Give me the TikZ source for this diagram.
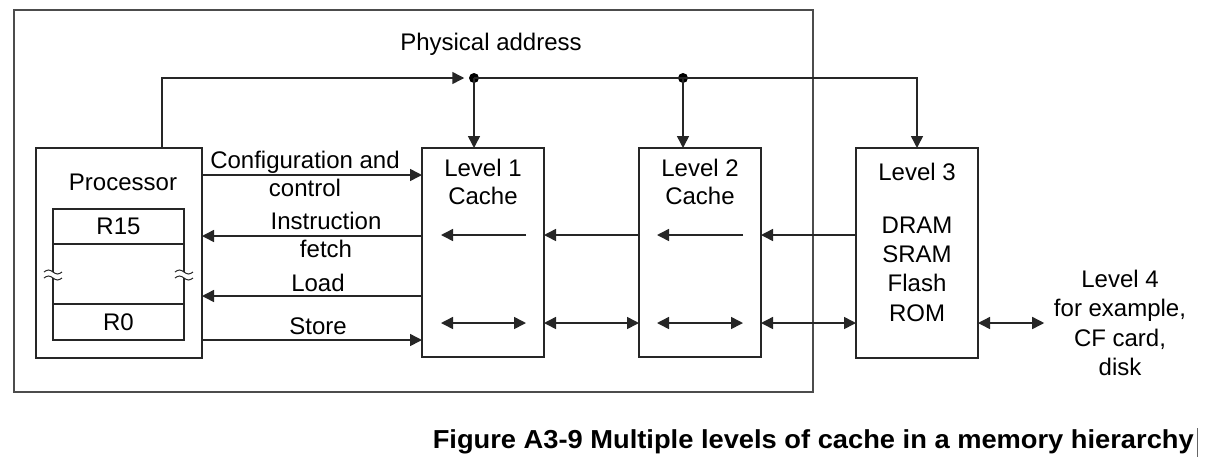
\documentclass[tikz,border=0pt]{standalone}
\usepackage{fontspec}
\setmainfont{Liberation Sans}
\usetikzlibrary{arrows.meta,calc}
\begin{document}
\begin{tikzpicture}[x=1pt,y=-1pt, line width=1.5pt, draw=black!85,
  box/.style={draw, line width=1.5pt, inner sep=0, outer sep=0, minimum width=122pt, minimum height=209pt},
  reg/.style={draw, line width=1.5pt, inner sep=0, outer sep=0, minimum width=131pt},
  lbl/.style={font=\fontsize{24}{28}\selectfont, align=center, inner sep=0, text=black},
  lbltall/.style={font=\fontsize{24}{29.3}\selectfont, align=center, inner sep=0, text=black},
  tip/.style={-{Triangle[length=12pt,width=12pt]}},
  dtip/.style={{Triangle[length=12pt,width=12pt]}-{Triangle[length=12pt,width=12pt]}},
  dot/.style={circle, fill=black, draw=none, inner sep=0, minimum size=10pt},
  wave/.style={line width=1pt}]
\useasboundingbox (0,0) rectangle (1209,467);
\fill[white] (0,0) rectangle (1209,467);

% outer frame
\node[draw=black!70, line width=1.3pt, minimum width=799pt, minimum height=382pt, inner sep=0] (frame) at (413.5,201) {};

% processor
\node[box, minimum width=166pt, minimum height=210pt] (proc) at (119,253) {};
\node[lbl] (proct) at (123,182) {Processor};
\node[reg, lbl, minimum height=35pt] (r15) at (118.5,226.5) {R15};
\node[reg, lbl, minimum height=36pt] (r0) at (118.5,322) {R0};
\draw (r15.south west) -- ++(0,27.5);
\draw (r0.north west) -- ++(0,-26);
\draw (r15.south east) -- ++(0,27.5);
\draw (r0.north east) -- ++(0,-26);
\foreach \xx in {53,184}{
  \draw[wave] (\xx-9,272) sin (\xx-4.5,270) cos (\xx,272) sin (\xx+4.5,274) cos (\xx+9,272);
  \draw[wave] (\xx-9,278) sin (\xx-4.5,276) cos (\xx,278) sin (\xx+4.5,280) cos (\xx+9,278);
}

% caches
\node[box] (l1) at (483,252.5) {};
\node[lbl] (l1t) at (483,182) {Level 1\\Cache};
\node[box] (l2) at (700,252.5) {};
\node[lbl] (l2t) at (700,182) {Level 2\\Cache};
\node[box, minimum height=210pt] (l3) at (917,253) {};
\node[lbl] (l3t) at (917,172) {Level 3};
\node[lbltall] (l3m) at (917,269) {DRAM\\SRAM\\Flash\\ROM};
\node[lbltall] (l4) at (1120,323) {Level 4\\for example,\\CF card,\\disk};

% physical address bus
\node[lbl] (pa) at (491,44) {Physical address};
\node[dot] (d1) at (474,78) {};
\node[dot] (d2) at (683,78) {};
\path (proc.north west) ++(126,0) coordinate (pu);
\draw[tip, shorten >=4pt] (pu) |- (d1.west);
\draw (d1.center) -- (d2.center);
\draw[tip] (d2.center) -| (l3.north);
\draw[tip] (d1.center) -- (d1 |- l1.north);
\draw[tip] (d2.center) -- (d2 |- l2.north);

% processor <-> L1
\coordinate (rc) at (0,175);
\coordinate (rf) at (0,236);
\coordinate (rl) at (0,296);
\coordinate (rs) at (0,340);
\draw[tip] (proc.east |- rc) -- (l1.west |- rc);
\draw[tip] (l1.west |- rf) -- (proc.east |- rf);
\draw[tip] (l1.west |- rl) -- (proc.east |- rl);
\draw[tip] (proc.east |- rs) -- (l1.west |- rs);
\node[lbl] (cfg) at (305,174) {Configuration and\\control};
\node[lbl] (ifl) at (326,234.5) {Instruction\\fetch};
\node[lbl] (ld) at (318,283) {Load};
\node[lbl] (st) at (318,326) {Store};

% cache rows
\coordinate (ra) at (0,235);
\coordinate (rb) at (0,323);
\draw[tip] ($(l1.east|-ra)+(-18,0)$) -- ($(l1.west|-ra)+(19,0)$);
\draw[dtip] ($(l1.west|-rb)+(19,0)$) -- ($(l1.east|-rb)+(-18,0)$);
\draw[tip] (l2.west|-ra) -- (l1.east|-ra);
\draw[dtip] (l1.east|-rb) -- (l2.west|-rb);
\draw[tip] ($(l2.east|-ra)+(-18,0)$) -- ($(l2.west|-ra)+(18,0)$);
\draw[dtip] ($(l2.west|-rb)+(18,0)$) -- ($(l2.east|-rb)+(-18,0)$);
\draw[tip] (l3.west|-ra) -- (l2.east|-ra);
\draw[dtip] (l2.east|-rb) -- (l3.west|-rb);
\draw[dtip, shorten >=9pt] (l3.east|-rb) -- (l4.west|-rb);

% caption
\node[inner sep=0, anchor=west, text=black] (cap) at (432,442) {\resizebox{761pt}{\height}{\fontsize{26}{30}\selectfont\bfseries Figure A3-9 Multiple levels of cache in a memory hierarchy}};
\draw[line width=1pt, draw=black!60] ($(cap.east)+(3,-14)$) -- ($(cap.east)+(3,15)$);
\end{tikzpicture}
\end{document}
